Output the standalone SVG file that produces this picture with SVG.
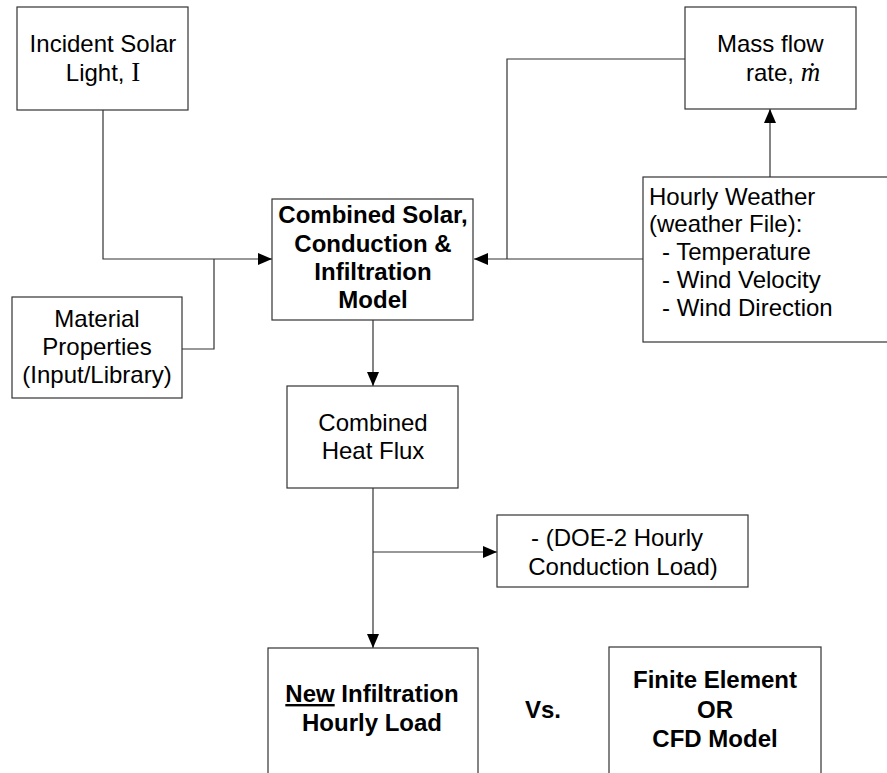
<svg xmlns="http://www.w3.org/2000/svg" width="887" height="773" viewBox="0 0 887 773">
  <defs>
    <marker id="arrow" markerWidth="14" markerHeight="12" refX="14" refY="6" orient="auto" markerUnits="userSpaceOnUse">
      <path d="M0,0 L14,6 L0,12 Z" fill="#000"/>
    </marker>
    <style>
      .box { fill: #fff; stroke: #333; stroke-width: 1.2; }
      .line { fill: none; stroke: #333; stroke-width: 1.2; }
      .t { font-family: "Liberation Sans", Arial, sans-serif; font-size: 24px; fill: #000; }
      .b { font-weight: bold; }
      .c { text-anchor: middle; }
      .sym { font-family: "Liberation Serif", "Times New Roman", serif; font-size: 27px; }
    </style>
  </defs>
  <rect width="887" height="773" fill="#fff"/>

  <!-- connectors -->
  <g id="connectors">
    <!-- solar light into model -->
    <path class="line" d="M103,110 V259 H272" marker-end="url(#arrow)"/>
    <!-- material properties joins the solar line -->
    <path class="line" d="M182,349 H214 V259"/>
    <!-- weather into model -->
    <path class="line" d="M643,259 H474" marker-end="url(#arrow)"/>
    <!-- mass flow joins the weather line -->
    <path class="line" d="M685,59 H507 V259"/>
    <!-- weather up to mass flow -->
    <path class="line" d="M770,177 V109" marker-end="url(#arrow)"/>
    <!-- model down to heat flux -->
    <path class="line" d="M373,320 V386" marker-end="url(#arrow)"/>
    <!-- heat flux down to new load -->
    <path class="line" d="M373,488 V648" marker-end="url(#arrow)"/>
    <!-- branch to DOE-2 conduction load -->
    <path class="line" d="M373,552 H497" marker-end="url(#arrow)"/>
  </g>

  <g id="incident-solar">
    <rect class="box" x="17" y="7" width="171" height="103"/>
    <text class="t c" x="103" y="52">Incident Solar</text>
    <text class="t c" x="103" y="81">Light, <tspan class="sym">I</tspan></text>
  </g>

  <g id="mass-flow">
    <rect class="box" x="685" y="7" width="171" height="102"/>
    <text class="t" x="717" y="52">Mass flow</text>
    <text class="t" x="746" y="81">rate, <tspan class="sym" font-style="italic">ṁ</tspan></text>
  </g>

  <g id="combined-model">
    <rect class="box" x="272" y="199" width="201" height="121"/>
    <text class="t b c" x="373" y="223">Combined Solar,</text>
    <text class="t b c" x="373" y="252">Conduction &amp;</text>
    <text class="t b c" x="373" y="280">Infiltration</text>
    <text class="t b c" x="373" y="308">Model</text>
  </g>

  <g id="hourly-weather">
    <rect class="box" x="643" y="177" width="260" height="165"/>
    <text class="t" x="649" y="205">Hourly Weather</text>
    <text class="t" x="649" y="232">(weather File):</text>
    <text class="t" x="662" y="260">- Temperature</text>
    <text class="t" x="662" y="288">- Wind Velocity</text>
    <text class="t" x="662" y="316">- Wind Direction</text>
  </g>

  <g id="material-properties">
    <rect class="box" x="12" y="297" width="170" height="101"/>
    <text class="t c" x="97" y="327">Material</text>
    <text class="t c" x="97" y="355">Properties</text>
    <text class="t c" x="97" y="383">(Input/Library)</text>
  </g>

  <g id="heat-flux">
    <rect class="box" x="287" y="386" width="171" height="102"/>
    <text class="t c" x="373" y="431">Combined</text>
    <text class="t c" x="373" y="459">Heat Flux</text>
  </g>

  <g id="doe2-load">
    <rect class="box" x="497" y="515" width="251" height="72"/>
    <text class="t c" x="617" y="546">- (DOE-2 Hourly</text>
    <text class="t c" x="623" y="575">Conduction Load)</text>
  </g>

  <g id="new-load">
    <rect class="box" x="268" y="648" width="210" height="140"/>
    <text class="t b c" x="372" y="702"><tspan text-decoration="underline">New</tspan> Infiltration</text>
    <text class="t b c" x="372" y="731">Hourly Load</text>
  </g>

  <g id="versus">
    <text class="t b c" x="543" y="718">Vs.</text>
  </g>

  <g id="finite-element">
    <rect class="box" x="609" y="647" width="212" height="141"/>
    <text class="t b c" x="715" y="688">Finite Element</text>
    <text class="t b c" x="715" y="718">OR</text>
    <text class="t b c" x="715" y="747">CFD Model</text>
  </g>
</svg>
